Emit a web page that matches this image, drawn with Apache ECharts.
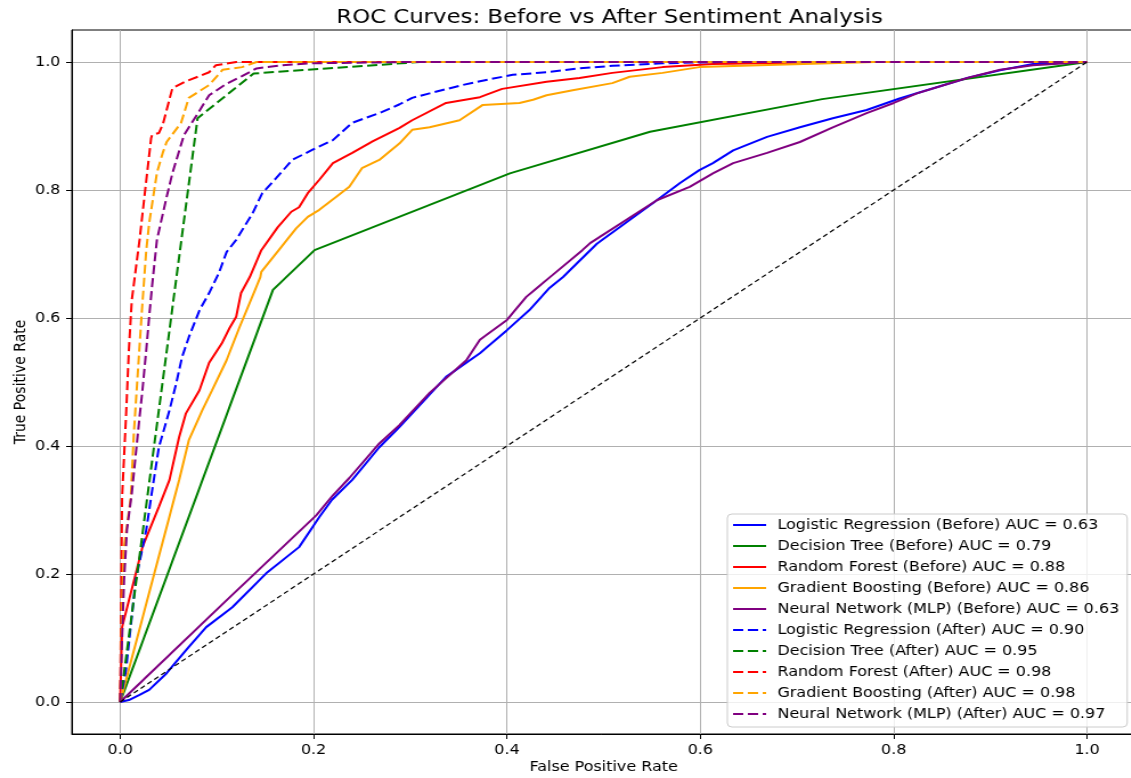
<!DOCTYPE html>
<html>
<head>
<meta charset="utf-8">
<title>ROC Curves</title>
<script src="https://cdn.jsdelivr.net/npm/echarts@6/dist/echarts.min.js"></script>
<style>
  html, body { margin: 0; padding: 0; background: #fff; overflow: hidden; }
  body { width: 1131px; height: 778px; }
  /* the source image is stretched sideways, so the chart is drawn narrower and scaled */
  #chart { width: 992px; height: 778px; transform: scaleX(1.14); transform-origin: 0 0; }
</style>
</head>
<body>
<div id="chart"></div>
<script>
// [fpr, tpr] pairs
const lrBefore = [[0,0],[0.009,0.003],[0.02,0.011],[0.03,0.019],[0.048,0.045],[0.071,0.086],[0.089,0.117],[0.116,0.148],[0.151,0.201],[0.185,0.242],[0.206,0.289],[0.219,0.316],[0.240,0.347],[0.268,0.398],[0.289,0.43],[0.337,0.508],[0.372,0.545],[0.400,0.581],[0.423,0.612],[0.444,0.647],[0.458,0.664],[0.493,0.716],[0.555,0.784],[0.579,0.811],[0.599,0.831],[0.613,0.842],[0.634,0.862],[0.669,0.883],[0.703,0.898],[0.737,0.912],[0.772,0.925],[0.806,0.943],[0.841,0.959],[0.876,0.975],[0.91,0.987],[0.944,0.997],[1,1]];
const dtBefore = [[0,0],[0.158,0.644],[0.201,0.706],[0.403,0.826],[0.548,0.891],[0.726,0.942],[1,1]];
const rfBefore = [[0,0],[0.002,0.117],[0.017,0.206],[0.023,0.242],[0.040,0.305],[0.051,0.347],[0.061,0.414],[0.068,0.451],[0.082,0.487],[0.092,0.53],[0.105,0.56],[0.113,0.584],[0.12,0.602],[0.125,0.639],[0.134,0.664],[0.146,0.706],[0.163,0.742],[0.177,0.766],[0.185,0.773],[0.194,0.795],[0.206,0.816],[0.22,0.842],[0.24,0.858],[0.261,0.876],[0.289,0.897],[0.302,0.909],[0.337,0.936],[0.372,0.945],[0.395,0.958],[0.441,0.969],[0.475,0.975],[0.509,0.983],[0.561,0.992],[0.613,0.997],[0.75,1],[1,1]];
const gbBefore = [[0,0],[0.039,0.222],[0.061,0.347],[0.071,0.409],[0.085,0.456],[0.095,0.487],[0.11,0.534],[0.123,0.584],[0.145,0.664],[0.146,0.672],[0.182,0.74],[0.194,0.758],[0.206,0.769],[0.237,0.805],[0.25,0.834],[0.268,0.847],[0.289,0.873],[0.302,0.894],[0.32,0.898],[0.351,0.909],[0.375,0.933],[0.413,0.936],[0.427,0.941],[0.441,0.948],[0.468,0.956],[0.509,0.967],[0.527,0.977],[0.561,0.983],[0.599,0.992],[0.661,0.995],[0.78,1],[1,1]];
const nnBefore = [[0,0],[0.108,0.156],[0.203,0.292],[0.22,0.323],[0.237,0.35],[0.268,0.404],[0.289,0.433],[0.32,0.483],[0.358,0.534],[0.372,0.566],[0.40,0.597],[0.42,0.633],[0.431,0.647],[0.447,0.667],[0.478,0.706],[0.486,0.717],[0.555,0.784],[0.589,0.805],[0.613,0.826],[0.634,0.842],[0.669,0.858],[0.703,0.875],[0.737,0.898],[0.772,0.92],[0.8,0.936],[0.824,0.951],[0.876,0.975],[0.91,0.988],[0.944,0.995],[1,1]];

const lrAfter = [[0,0],[0.006,0.05],[0.012,0.133],[0.016,0.19],[0.027,0.269],[0.033,0.33],[0.04,0.398],[0.051,0.456],[0.058,0.498],[0.064,0.539],[0.071,0.570],[0.082,0.612],[0.092,0.639],[0.102,0.67],[0.11,0.703],[0.12,0.722],[0.137,0.764],[0.147,0.795],[0.161,0.818],[0.178,0.847],[0.199,0.863],[0.22,0.878],[0.24,0.905],[0.271,0.922],[0.289,0.934],[0.302,0.944],[0.32,0.951],[0.354,0.964],[0.372,0.970],[0.406,0.980],[0.441,0.984],[0.475,0.99],[0.509,0.994],[0.561,0.998],[0.62,1],[1,1]];
const dtAfter = [[0,0],[0.08,0.912],[0.138,0.982],[0.31,1],[1,1]];
const rfAfter = [[0,0],[0.001,0.15],[0.002,0.32],[0.006,0.445],[0.009,0.55],[0.012,0.628],[0.02,0.722],[0.028,0.828],[0.032,0.881],[0.033,0.886],[0.04,0.889],[0.044,0.902],[0.054,0.959],[0.068,0.97],[0.082,0.978],[0.092,0.984],[0.099,0.995],[0.12,1],[1,1]];
const gbAfter = [[0,0],[0.002,0.15],[0.004,0.242],[0.011,0.32],[0.014,0.417],[0.022,0.602],[0.027,0.706],[0.03,0.748],[0.038,0.827],[0.044,0.858],[0.048,0.875],[0.063,0.905],[0.071,0.944],[0.092,0.964],[0.106,0.988],[0.126,0.992],[0.141,1],[1,1]];
const nnAfter = [[0,0],[0.002,0.1],[0.004,0.19],[0.007,0.269],[0.012,0.326],[0.02,0.445],[0.023,0.487],[0.027,0.55],[0.03,0.602],[0.033,0.65],[0.038,0.722],[0.048,0.789],[0.054,0.826],[0.066,0.886],[0.08,0.919],[0.092,0.948],[0.11,0.966],[0.126,0.978],[0.141,0.99],[0.168,0.995],[0.199,0.998],[0.3,1],[1,1]];

const chance = [[0,0],[1,1]];

const tickValues = [0, 0.2, 0.4, 0.6, 0.8, 1.0];

const seriesNames = [
  "Logistic Regression (Before) AUC = 0.63",
  "Decision Tree (Before) AUC = 0.79",
  "Random Forest (Before) AUC = 0.88",
  "Gradient Boosting (Before) AUC = 0.86",
  "Neural Network (MLP) (Before) AUC = 0.63",
  "Logistic Regression (After) AUC = 0.90",
  "Decision Tree (After) AUC = 0.95",
  "Random Forest (After) AUC = 0.98",
  "Gradient Boosting (After) AUC = 0.98",
  "Neural Network (MLP) (After) AUC = 0.97"
];
const seriesData = [lrBefore, dtBefore, rfBefore, gbBefore, nnBefore, lrAfter, dtAfter, rfAfter, gbAfter, nnAfter];
const seriesColors = ["#0000ff", "#008000", "#ff0000", "#ffa500", "#800080"];

const FONT = "DejaVu Sans";

const makeSeries = (name, data, color, dashed) => ({
  name: name,
  type: "line",
  data: data,
  symbol: "none",
  smooth: false,
  lineStyle: { color: color, width: 2, type: dashed ? [9, 4] : "solid" },
  itemStyle: { color: color },
  emphasis: { disabled: true }
});

const series = seriesNames.map((name, i) =>
  makeSeries(name, seriesData[i], seriesColors[i % 5], i >= 5)
);
series.push({
  name: "chance",
  type: "line",
  data: chance,
  symbol: "none",
  lineStyle: { color: "#000", width: 1.2, type: [4.5, 3] },
  emphasis: { disabled: true }
});

const axisCommon = {
  type: "value",
  min: -0.05,
  max: 1.05,
  axisLine: { show: true, onZero: false, lineStyle: { color: "#000", width: 1 } },
  axisTick: { show: true, customValues: tickValues, length: 5, lineStyle: { color: "#000" } },
  axisLabel: {
    customValues: tickValues,
    formatter: v => v.toFixed(1),
    fontFamily: FONT,
    fontSize: 14,
    color: "#000"
  },
  splitLine: { show: true, lineStyle: { color: "#b0b0b0", width: 1 } },
  nameLocation: "middle",
  nameMoveOverlap: false,
  nameTextStyle: { fontFamily: FONT, fontSize: 14, color: "#000" }
};

const chart = echarts.init(document.getElementById("chart"));
chart.setOption({
  animation: false,
  backgroundColor: "#fff",
  title: {
    text: "ROC Curves: Before vs After Sentiment Analysis",
    left: 290,
    top: 3,
    textStyle: { fontFamily: FONT, fontSize: 20, fontWeight: "normal", color: "#000" }
  },
  grid: {
    left: 63,
    top: 30,
    width: 933,
    height: 704,
    outerBoundsMode: "none",
    containLabel: false,
    show: true,
    borderColor: "#000",
    borderWidth: 1
  },
  xAxis: Object.assign({}, axisCommon, {
    name: "False Positive Rate",
    nameGap: 26,
    axisLabel: Object.assign({}, axisCommon.axisLabel, { margin: 9 })
  }),
  yAxis: Object.assign({}, axisCommon, {
    name: "True Positive Rate",
    nameGap: 38,
    axisLabel: Object.assign({}, axisCommon.axisLabel, { margin: 10 })
  }),
  legend: {
    data: seriesNames,
    orient: "vertical",
    left: 638,
    top: 514,
    itemWidth: 29,
    itemHeight: 14,
    itemGap: 7,
    padding: [4, 7, 6, 4],
    backgroundColor: "rgba(255,255,255,0.8)",
    borderColor: "#cccccc",
    borderWidth: 1,
    borderRadius: 4,
    selectedMode: false,
    itemStyle: { opacity: 0 },
    textStyle: { fontFamily: FONT, fontSize: 14, color: "#000", padding: [0, 0, 0, 5] }
  },
  series: series
});
</script>
</body>
</html>
